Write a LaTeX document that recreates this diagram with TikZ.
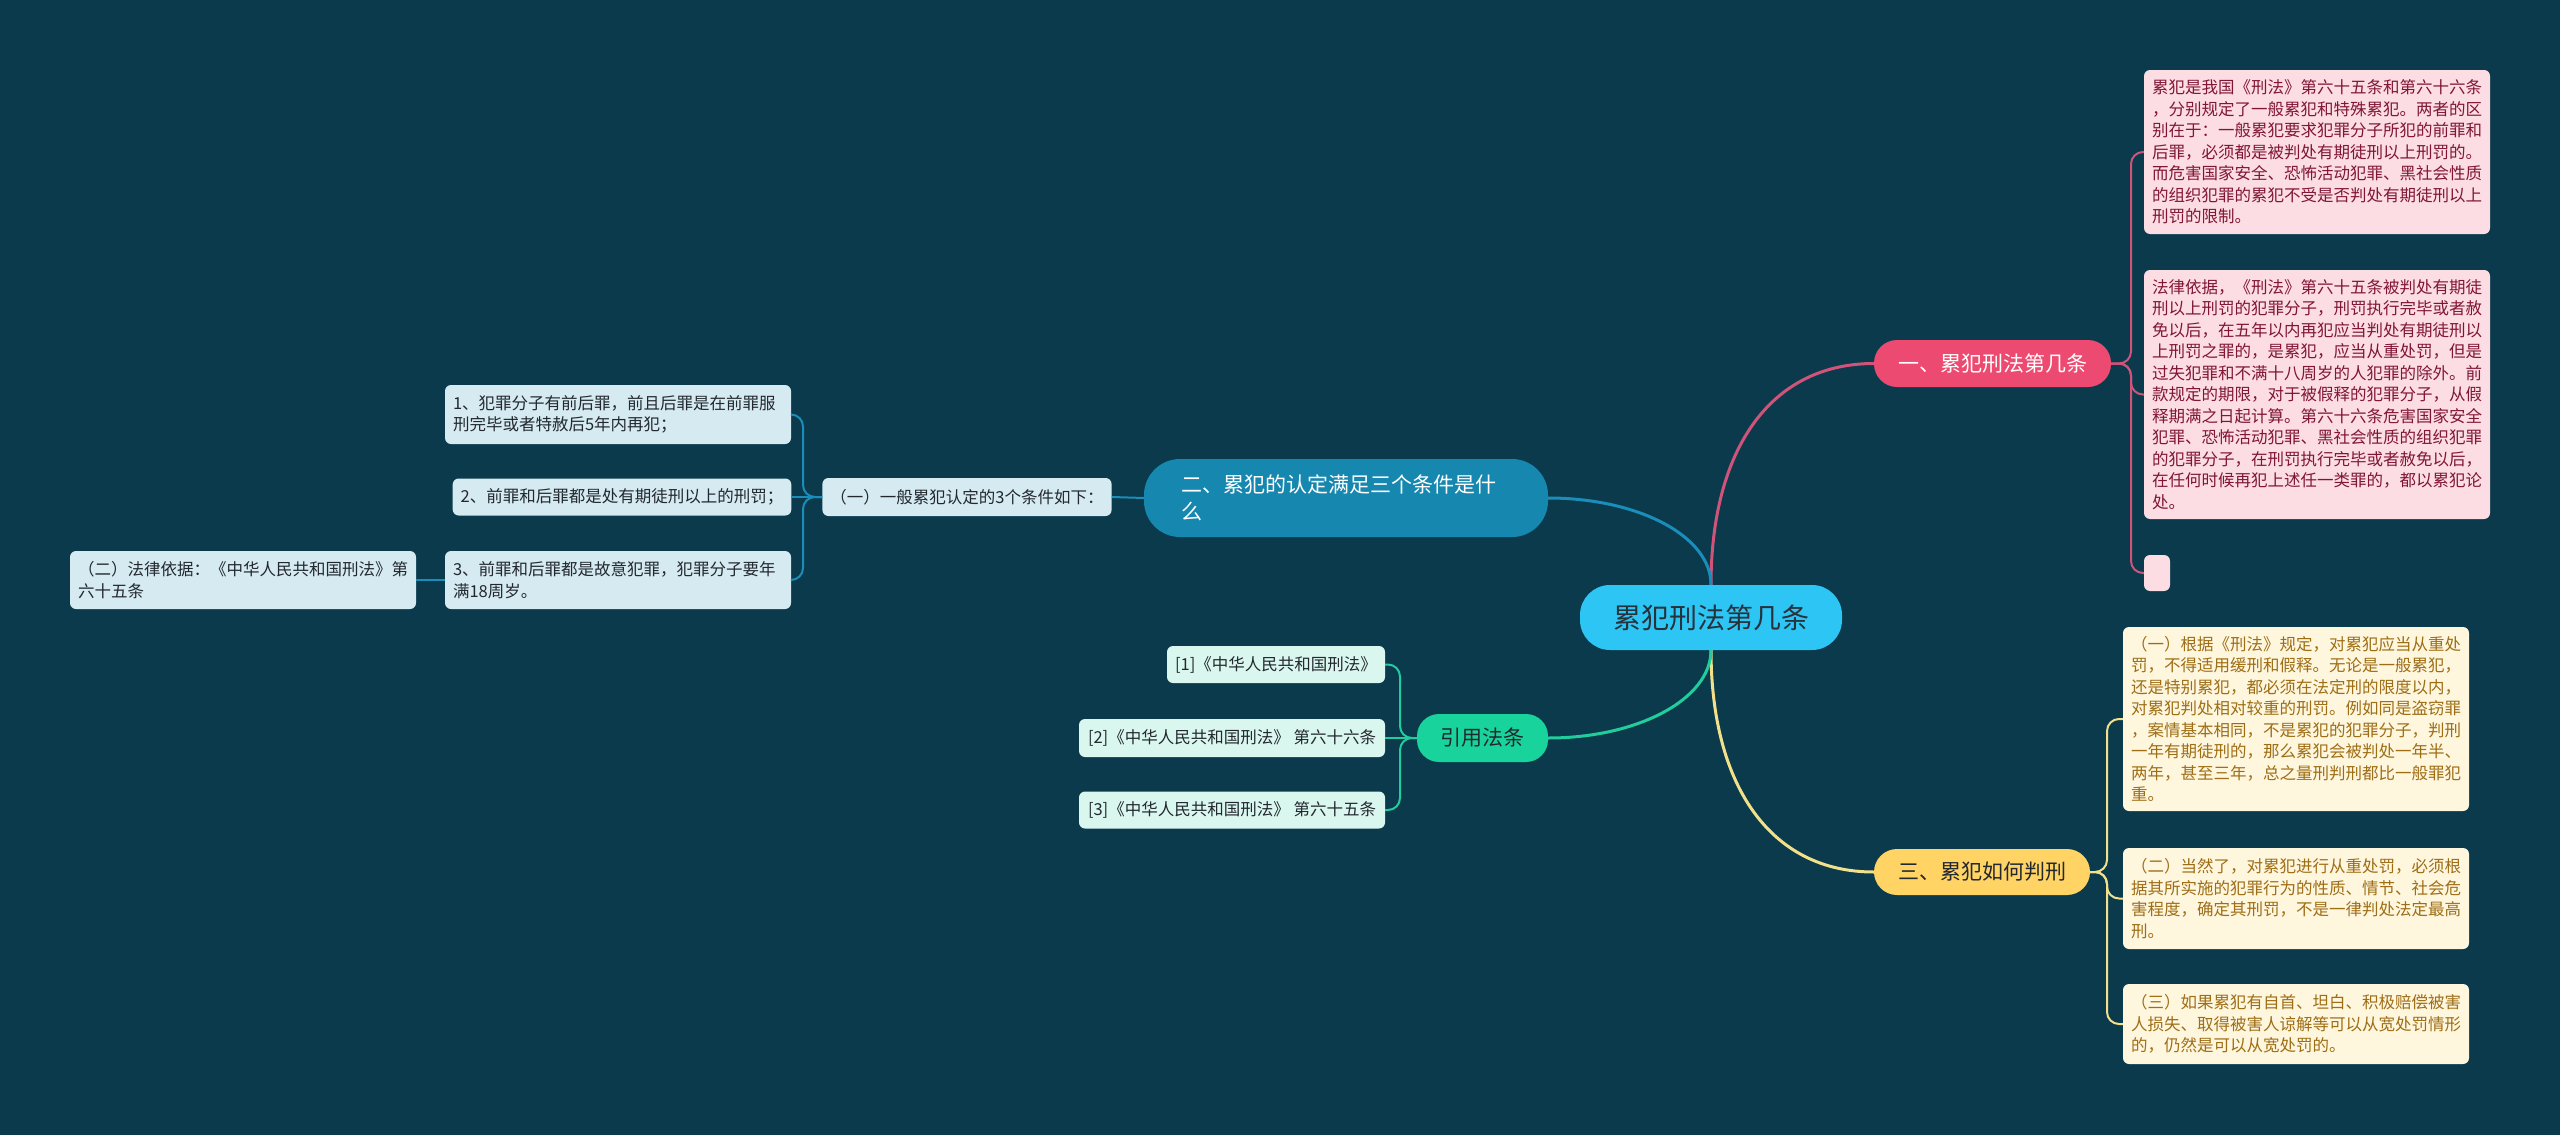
\documentclass[tikz,border=0pt]{standalone}
\usepackage{fontspec}
\newfontfamily\zhfont{Noto Sans CJK SC}
\usepackage{tikz}

\definecolor{bgc}{RGB}{10,58,76}
\definecolor{hubc}{RGB}{45,198,244}
\definecolor{hubt}{RGB}{38,50,60}
\definecolor{dkt}{RGB}{34,40,46}
\definecolor{pkc}{RGB}{236,74,112}
\definecolor{pkl}{RGB}{253,221,228}
\definecolor{pkt}{RGB}{128,22,54}
\definecolor{pkw}{RGB}{208,84,122}
\definecolor{ylc}{RGB}{255,211,100}
\definecolor{yll}{RGB}{255,246,222}
\definecolor{ylt}{RGB}{158,110,22}
\definecolor{ylw}{RGB}{242,224,138}
\definecolor{blc}{RGB}{22,136,176}
\definecolor{bll}{RGB}{214,234,242}
\definecolor{blw}{RGB}{27,141,186}
\definecolor{grc}{RGB}{24,212,156}
\definecolor{grl}{RGB}{218,247,239}
\definecolor{grw}{RGB}{33,204,157}

\newcommand\hubsz{\zhfont\fontsize{28}{34}\selectfont}
\newcommand\brsz{\zhfont\fontsize{21}{27}\selectfont}
\newcommand\lfsz{\zhfont\fontsize{16.5}{21.5}\selectfont}

\begin{document}
\begin{tikzpicture}[x=1pt, y=-1pt,
  hub/.style={fill=hubc, text=hubt, font=\hubsz, rounded corners=30pt,
    inner sep=0pt, minimum width=262pt, minimum height=65pt},
  br/.style={font=\brsz, inner sep=0pt, minimum height=47pt, rounded corners=23pt},
  lf/.style={font=\lfsz, text=dkt, inner xsep=8pt, inner ysep=0pt,
    rounded corners=6pt, align=left},
  lfw/.style={lf, text width=330pt},
  cn/.style={line width=2pt, rounded corners=12pt},
  cw/.style={line width=3pt}]
  \useasboundingbox (0,0) rectangle (2560,1135);
  \fill[bgc] (0,0) rectangle (2560,1135);

  % centre and first level
  \node[hub] (hub) at (1711,617.5) {累犯刑法第几条};
  \node[br, fill=pkc, text=white, minimum width=237pt] (one) at (1992.5,363.5) {一、累犯刑法第几条};
  \node[br, fill=ylc, text=dkt, minimum width=216pt, minimum height=46pt] (three) at (1982,872) {三、累犯如何判刑};
  \node[br, fill=blc, text=white, text width=330pt, inner xsep=37pt, minimum height=78pt,
        rounded corners=36pt, align=left] (two) at (1346,498) {二、累犯的认定满足三个条件是什\\么};
  \node[br, fill=grc, text=dkt, minimum width=131pt, minimum height=48pt, rounded corners=22pt]
        (cite) at (1482.5,738) {引用法条};

  % pink leaves
  \node[lfw, fill=pkl, text=pkt, minimum height=164pt] (p1) at (2317,152)
    {累犯是我国《刑法》第六十五条和第六十六条\\，分别规定了一般累犯和特殊累犯。两者的区\\别在于：一般累犯要求犯罪分子所犯的前罪和\\后罪，必须都是被判处有期徒刑以上刑罚的。\\而危害国家安全、恐怖活动犯罪、黑社会性质\\的组织犯罪的累犯不受是否判处有期徒刑以上\\刑罚的限制。};
  \node[lfw, fill=pkl, text=pkt, minimum height=249pt] (p2) at (2317,394.5)
    {法律依据，《刑法》第六十五条被判处有期徒\\刑以上刑罚的犯罪分子，刑罚执行完毕或者赦\\免以后，在五年以内再犯应当判处有期徒刑以\\上刑罚之罪的，是累犯，应当从重处罚，但是\\过失犯罪和不满十八周岁的人犯罪的除外。前\\款规定的期限，对于被假释的犯罪分子，从假\\释期满之日起计算。第六十六条危害国家安全\\犯罪、恐怖活动犯罪、黑社会性质的组织犯罪\\的犯罪分子，在刑罚执行完毕或者赦免以后，\\在任何时候再犯上述任一类罪的，都以累犯论\\处。};
  \node[lf, fill=pkl, inner xsep=0pt, minimum width=26pt, minimum height=36pt] (p3) at (2157,573) {};

  % yellow leaves
  \node[lfw, fill=yll, text=ylt, minimum height=184pt] (y1) at (2296,719)
    {（一）根据《刑法》规定，对累犯应当从重处\\罚，不得适用缓刑和假释。无论是一般累犯，\\还是特别累犯，都必须在法定刑的限度以内，\\对累犯判处相对较重的刑罚。例如同是盗窃罪\\，案情基本相同，不是累犯的犯罪分子，判刑\\一年有期徒刑的，那么累犯会被判处一年半、\\两年，甚至三年，总之量刑判刑都比一般罪犯\\重。};
  \node[lfw, fill=yll, text=ylt, minimum height=101pt] (y2) at (2296,898.5)
    {（二）当然了，对累犯进行从重处罚，必须根\\据其所实施的犯罪行为的性质、情节、社会危\\害程度，确定其刑罚，不是一律判处法定最高\\刑。};
  \node[lfw, fill=yll, text=ylt, minimum height=80pt] (y3) at (2296,1024)
    {（三）如果累犯有自首、坦白、积极赔偿被害\\人损失、取得被害人谅解等可以从宽处罚情形\\的，仍然是可以从宽处罚的。};

  % blue leaves
  \node[lf, fill=bll, minimum width=286pt, minimum height=38pt] (c1) at (967,497) {（一）一般累犯认定的3个条件如下：};
  \node[lfw, fill=bll, minimum height=59pt] (b1) at (618,414.5)
    {1、犯罪分子有前后罪，前且后罪是在前罪服\\刑完毕或者特赦后5年内再犯；};
  \node[lf, fill=bll, minimum width=336pt, minimum height=37pt] (b2) at (622,497) {2、前罪和后罪都是处有期徒刑以上的刑罚；};
  \node[lfw, fill=bll, minimum height=58pt] (b3) at (618,580)
    {3、前罪和后罪都是故意犯罪，犯罪分子要年\\满18周岁。};
  \node[lfw, fill=bll, minimum height=58pt] (law) at (243,580)
    {（二）法律依据：《中华人民共和国刑法》第\\六十五条};

  % green leaves
  \node[lf, fill=grl, minimum width=218pt, minimum height=37pt] (g1) at (1276,664.5) {[1]《中华人民共和国刑法》};
  \node[lf, fill=grl, minimum width=306pt, minimum height=38pt] (g2) at (1232,738) {[2]《中华人民共和国刑法》 第六十六条};
  \node[lf, fill=grl, minimum width=306pt, minimum height=37pt] (g3) at (1232,810) {[3]《中华人民共和国刑法》 第六十五条};

  % branch joints
  \coordinate (jP) at (2131,363.5);
  \coordinate (jY) at (2107,872);
  \coordinate (jB) at (803,497);
  \coordinate (jG) at (1400,738);

  % curves from the centre
  \draw[cw, pkw] (hub.north) .. controls (1711,450) and (1770,363.5) .. (one.west);
  \draw[cw, ylw] (hub.south) .. controls (1711,785) and (1770,872) .. (three.west);
  \draw[cw, blw] (two.east) .. controls (1638,498) and (1711,536) .. (hub.north);
  \draw[cw, grw] (cite.east) .. controls (1638,738) and (1711,699) .. (hub.south);

  % leaf brackets
  \foreach \n in {p1,p2,p3} \draw[cn, pkw] (one.east) -- (jP) |- (\n.west);
  \foreach \n in {y1,y2,y3} \draw[cn, ylw] (three.east) -- (jY) |- (\n.west);
  \foreach \n in {b1,b3} \draw[cn, blw] (c1.west) -- (jB) |- (\n.east);
  \draw[cn, blw] (c1.west) -- (b2.east);
  \draw[cn, blw] (two.west) -- (c1.east);
  \draw[cn, blw] (b3.west) -- (law.east);
  \foreach \n in {g1,g3} \draw[cn, grw] (cite.west) -- (jG) |- (\n.east);
  \draw[cn, grw] (cite.west) -- (g2.east);
\end{tikzpicture}
\end{document}
